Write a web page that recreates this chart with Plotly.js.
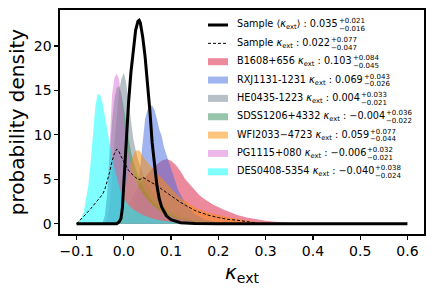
<!DOCTYPE html>
<html><head><meta charset="utf-8">
<script src="https://cdn.plot.ly/plotly-3.0.1.min.js"></script>
<style>html,body{margin:0;padding:0;background:#fff}#chart{width:436px;height:291px}</style>
</head><body><div id="chart"></div>
<script>
// ---- data ----
const b1608X = [-0.02,-0.01,0,0.01,0.02,0.03,0.04,0.05,0.06,0.07,0.08,0.09,0.1,0.11,0.12,0.13,0.14,0.15,0.16,0.17,0.18,0.19,0.2,0.21,0.22,0.24,0.26,0.28,0.3,0.32,0.34,0.36,0.38];
const b1608Y = [0,0.4,1.2,2.2,3.2,4.1,4.9,5.6,6.2,6.7,7.1,7.3,7.1,6.6,5.9,5.0,4.4,3.7,3.2,2.8,2.4,2.1,1.9,1.6,1.4,1.0,0.7,0.5,0.35,0.22,0.12,0.05,0];
const rxjX = [0,0.01,0.02,0.025,0.03,0.035,0.04,0.045,0.05,0.055,0.06,0.065,0.07,0.075,0.08,0.085,0.09,0.095,0.1,0.105,0.11,0.115,0.12,0.13,0.14,0.15,0.17,0.2,0.25];
const rxjY = [0,0.5,1.5,2.5,4.0,6.5,9.5,11.8,12.8,13.2,13.3,12.8,11.8,10.6,9.9,8.6,7.8,7.0,6.1,5.2,4.5,3.8,3.3,2.3,1.6,1.1,0.5,0.15,0];
const he0435X = [-0.04,-0.035,-0.03,-0.025,-0.02,-0.015,-0.01,-0.005,0,0.005,0.01,0.015,0.02,0.025,0.03,0.04,0.05,0.06,0.07,0.08,0.1,0.12,0.15,0.2,0.25];
const he0435Y = [0,0.6,2.0,5.0,9.0,12.5,15.0,16.3,17.0,15.8,13.5,11.5,9.6,8.3,7.2,5.6,4.4,3.5,2.8,2.2,1.4,0.85,0.4,0.1,0];
const sdssX = [-0.045,-0.04,-0.035,-0.03,-0.025,-0.02,-0.015,-0.01,-0.005,0,0.005,0.01,0.015,0.02,0.03,0.04,0.05,0.06,0.08,0.1,0.12,0.15,0.2,0.22];
const sdssY = [0,1.0,3.5,7.5,11.5,14.0,15.3,15.5,14.6,13.0,11.2,9.5,8.1,7.0,5.4,4.2,3.3,2.6,1.6,1.0,0.6,0.25,0.05,0];
const wfiX = [-0.02,-0.01,-0.005,0,0.005,0.01,0.015,0.02,0.025,0.03,0.035,0.04,0.05,0.06,0.07,0.08,0.09,0.1,0.11,0.12,0.13,0.14,0.15,0.16,0.18,0.2,0.22,0.24,0.26,0.28,0.3,0.33,0.35];
const wfiY = [0,0.8,1.8,3.2,4.6,5.8,6.9,7.7,8.2,8.3,8.1,7.6,6.9,6.3,5.7,5.1,4.5,3.9,3.4,2.9,2.5,2.2,1.9,1.6,1.25,1.0,0.8,0.55,0.35,0.2,0.1,0.03,0];
const pgX = [-0.045,-0.04,-0.035,-0.03,-0.025,-0.02,-0.015,-0.01,-0.005,0,0.005,0.01,0.015,0.02,0.03,0.04,0.05,0.06,0.07,0.08,0.1,0.12,0.15,0.18,0.2];
const pgY = [0,0.8,3.0,8.0,14.5,16.4,16.9,16.2,14.0,11.5,9.5,7.8,6.6,5.6,4.3,3.4,2.7,2.1,1.7,1.3,0.8,0.45,0.2,0.08,0];
const desX = [-0.1,-0.095,-0.09,-0.085,-0.08,-0.075,-0.07,-0.065,-0.06,-0.055,-0.05,-0.045,-0.04,-0.035,-0.03,-0.025,-0.02,-0.015,-0.01,-0.005,0,0.01,0.02,0.03,0.04,0.05,0.06,0.08,0.1,0.12,0.15];
const desY = [0,0.3,0.7,1.3,2.6,4.3,7.0,10.5,13.3,14.6,14.5,13.6,12.0,10.6,9.2,7.6,6.3,5.1,4.2,3.4,2.8,2.1,1.6,1.3,1.0,0.8,0.6,0.35,0.2,0.1,0];
const sampleMeanX = [-0.1,-0.015,-0.01,-0.006,-0.003,0,0.005,0.01,0.015,0.02,0.025,0.03,0.0325,0.035,0.04,0.045,0.05,0.055,0.06,0.065,0.07,0.075,0.08,0.09,0.1,0.12,0.15,0.2,0.6];
const sampleMeanY = [0,0,0.2,0.6,1.8,4.6,9.6,13.6,17.0,19.8,21.8,22.8,22.9,22.6,21.0,18.8,16.0,12.8,9.1,6.3,4.3,2.8,1.9,0.9,0.45,0.12,0.02,0,0];
const sampleX = [-0.1,-0.09,-0.08,-0.07,-0.06,-0.05,-0.045,-0.04,-0.035,-0.03,-0.025,-0.02,-0.015,-0.01,-0.005,0,0.005,0.01,0.015,0.02,0.025,0.03,0.035,0.04,0.045,0.05,0.06,0.07,0.08,0.09,0.1,0.11,0.12,0.13,0.14,0.15,0.16,0.18,0.2,0.22,0.24,0.26,0.28];
const sampleY = [0,0.5,1.1,1.7,2.3,2.9,3.3,3.9,4.8,5.8,7.0,7.9,8.4,8.1,7.5,7.0,6.4,6.0,5.7,5.4,5.2,5.0,5.0,5.2,5.1,4.9,4.6,4.3,3.9,3.5,3.1,2.8,2.4,2.1,1.8,1.5,1.3,0.95,0.7,0.5,0.4,0.25,0.1];

const xTicks = [-0.1,0,0.1,0.2,0.3,0.4,0.5,0.6];
const yTicks = [0,5,10,15,20];

const lensNames = ['B1608+656','RXJ1131-1231','HE0435-1223','SDSS1206+4332','WFI2033\u22124723','PG1115+080','DES0408-5354'];
const lensMedian = ['0.103','0.069','0.004','\u22120.004','0.059','\u22120.006','\u22120.040'];
const lensPlus = ['+0.084','+0.043','+0.033','+0.036','+0.077','+0.032','+0.038'];
const lensMinus = ['\u22120.045','\u22120.026','\u22120.021','\u22120.022','\u22120.044','\u22120.021','\u22120.024'];
const lensColors = ['rgba(220,20,60,0.5)','rgba(65,105,225,0.5)','rgba(112,128,144,0.5)','rgba(46,139,87,0.5)','rgba(255,140,0,0.5)','rgba(218,112,214,0.5)','rgba(0,255,255,0.5)'];
const lensX = [b1608X, rxjX, he0435X, sdssX, wfiX, pgX, desX];
const lensY = [b1608Y, rxjY, he0435Y, sdssY, wfiY, pgY, desY];

// ---- traces ----
const FONT = 'DejaVu Sans, sans-serif';
const traces = [];
for (let i = 0; i < lensNames.length; i++) {
  traces.push({x: lensX[i], y: lensY[i], type: 'scatter', mode: 'lines', fill: 'tozeroy',
    fillcolor: lensColors[i], line: {width: 0, color: lensColors[i]}, showlegend: false, hoverinfo: 'skip'});
}
traces.push({x: sampleX, y: sampleY, type: 'scatter', mode: 'lines',
  line: {color: 'black', width: 1, dash: '3px,2px'}, showlegend: false});
traces.push({x: sampleMeanX, y: sampleMeanY, type: 'scatter', mode: 'lines',
  line: {color: 'black', width: 3}, showlegend: false});

// ---- manual legend (matplotlib-style stacked errors) ----
const plotL = 60, plotR = 424, plotT = 10, plotB = 234;
const pw = plotR - plotL, ph = plotB - plotT;
const px2x = p => (p - plotL) / pw;
const py2y = p => (plotB - p) / ph;
const rowY0 = 25, rowDy = 18.35;
const swL = px2x(208), swR = px2x(228), textX = px2x(236);

const rows = [
  {main: 'Sample \u27e8<i>\u03ba</i><sub>ext</sub>\u27e9 : 0.035', plus: '+0.021', minus: '\u22120.016', kind: 'solid'},
  {main: 'Sample <i>\u03ba</i><sub>ext</sub> : 0.022', plus: '+0.077', minus: '\u22120.047', kind: 'dash'}
];
for (let i = 0; i < lensNames.length; i++) {
  rows.push({main: lensNames[i] + ' <i>\u03ba</i><sub>ext</sub> : ' + lensMedian[i], plus: lensPlus[i], minus: lensMinus[i], kind: 'fill', color: lensColors[i]});
}

const shapes = [];
const annotations = [];
rows.forEach((r, i) => {
  const py = rowY0 + i * rowDy;
  if (r.kind === 'fill') {
    shapes.push({type: 'rect', xref: 'paper', yref: 'paper', x0: swL, x1: swR, y0: py2y(py + 3.5), y1: py2y(py - 3.5),
      fillcolor: r.color, line: {width: 0}});
  } else {
    shapes.push({type: 'line', xref: 'paper', yref: 'paper', x0: swL, x1: swR, y0: py2y(py), y1: py2y(py),
      line: {color: 'black', width: r.kind === 'solid' ? 3 : 1, dash: r.kind === 'solid' ? 'solid' : '3px,2px'}});
  }
  annotations.push({xref: 'paper', yref: 'paper', x: textX, y: py2y(py), xanchor: 'left', yanchor: 'middle',
    text: r.main, showarrow: false, borderpad: 0, font: {family: FONT, size: 9.7, color: 'black'}});
  annotations.push({xref: 'paper', yref: 'paper', x: textX, y: py2y(py), xanchor: 'left', yanchor: 'middle', yshift: 3.5,
    text: r.plus, showarrow: false, borderpad: 0, font: {family: FONT, size: 7, color: 'black'}});
  annotations.push({xref: 'paper', yref: 'paper', x: textX, y: py2y(py), xanchor: 'left', yanchor: 'middle', yshift: -4.3,
    text: r.minus, showarrow: false, borderpad: 0, font: {family: FONT, size: 7, color: 'black'}});
});

const layout = {
  width: 436, height: 291,
  margin: {l: plotL, r: 436 - plotR, t: plotT, b: 291 - plotB},
  paper_bgcolor: 'white', plot_bgcolor: 'white',
  showlegend: false,
  font: {family: FONT, color: 'black'},
  xaxis: {range: [-0.135, 0.635], tickvals: xTicks, tickformat: '.1f', ticks: 'outside', ticklen: 4, tickwidth: 1.2,
    tickcolor: 'black', showline: true, linecolor: 'black', linewidth: 1.6, mirror: true, showgrid: false, zeroline: false,
    tickfont: {family: FONT, size: 14, color: 'black'},
    title: {text: '<i>\u03ba</i><sub>ext</sub>', font: {family: FONT, size: 20, color: 'black'}, standoff: 6}},
  yaxis: {range: [-1.15, 24.05], tickvals: yTicks, ticks: 'outside', ticklen: 4, tickwidth: 1.2,
    tickcolor: 'black', showline: true, linecolor: 'black', linewidth: 1.6, mirror: true, showgrid: false, zeroline: false,
    tickfont: {family: FONT, size: 14, color: 'black'},
    title: {text: 'probability density', font: {family: FONT, size: 20, color: 'black'}, standoff: 4}},
  shapes: shapes,
  annotations: annotations
};

const gd = document.getElementById('chart');
Plotly.newPlot(gd, traces, layout, {staticPlot: true, displayModeBar: false}).then(() => {
  const upd = {};
  rows.forEach((r, i) => {
    const el = gd.querySelector('.annotation[data-index="' + (3 * i) + '"] .annotation-text');
    if (!el) return;
    const w = el.getBBox().width;
    upd['annotations[' + (3 * i + 1) + '].xshift'] = w + 1;
    upd['annotations[' + (3 * i + 2) + '].xshift'] = w + 1;
  });
  return Plotly.relayout(gd, upd);
});
</script></body></html>
